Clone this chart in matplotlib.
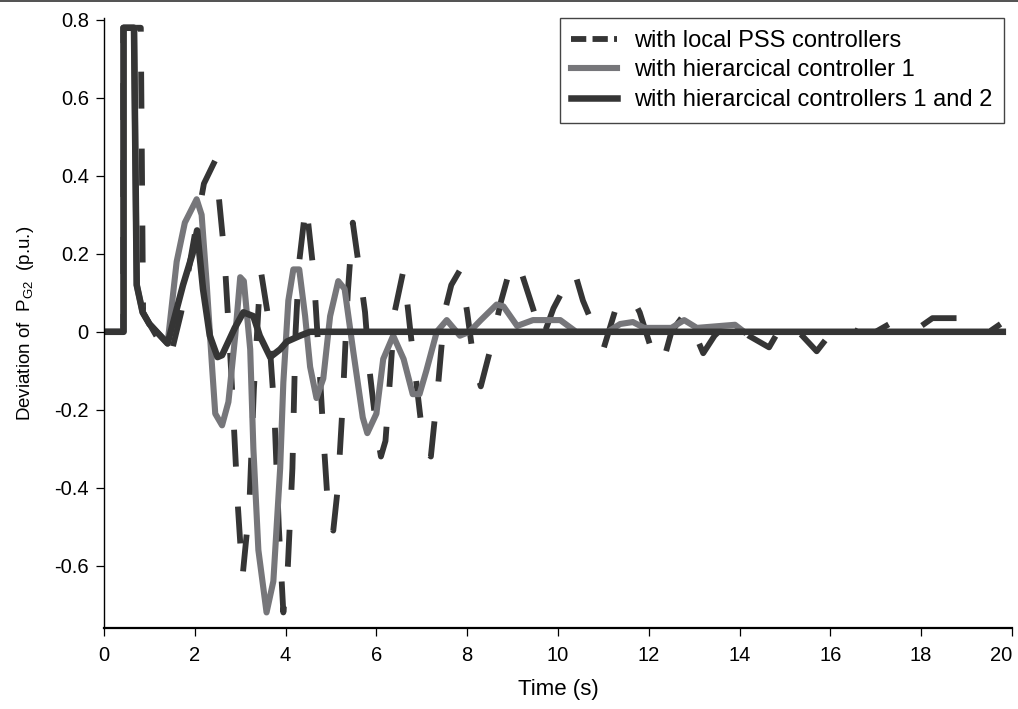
import numpy as np
import matplotlib
matplotlib.use('Agg')
import matplotlib.pyplot as plt
from matplotlib.lines import Line2D

plt.rcParams['font.family'] = ['Liberation Sans', 'DejaVu Sans']
plt.rcParams['mathtext.default'] = 'regular'
plt.rcParams['lines.scale_dashes'] = False

# local PSS controllers (dashed)
t_pss = [0, 0.42, 0.42, 0.81, 0.86, 1.0, 1.45, 1.7, 2.0, 2.2, 2.45, 2.65, 2.8, 2.95, 3.05,
         3.2, 3.3, 3.45, 3.6, 3.75, 3.85, 3.95, 4.05, 4.15, 4.22, 4.3, 4.45, 4.62, 4.75,
         4.85, 4.95, 5.05, 5.15, 5.25, 5.37, 5.48, 5.6, 5.75, 5.85, 6.0, 6.1, 6.2, 6.3,
         6.4, 6.6, 6.75, 6.9, 7.05, 7.2, 7.35, 7.5, 7.65, 7.85, 8.0, 8.15, 8.3, 8.5, 8.75,
         9.0, 9.2, 9.45, 9.65, 9.9, 10.35, 10.55, 10.8, 11.0, 11.3, 11.6, 11.8, 12.1, 12.3,
         12.5, 12.8, 13.0, 13.2, 13.45, 13.8, 14.2, 14.65, 15.0, 15.3, 15.7, 16.2, 16.6,
         17.0, 17.3, 17.7, 18.25, 18.9, 19.2, 19.5, 19.75]
y_pss = [0, 0, 0.78, 0.78, 0.05, 0.02, -0.07, 0.05, 0.25, 0.38, 0.44, 0.2, -0.1, -0.45, -0.63,
         -0.45, -0.15, 0.16, 0.05, -0.2, -0.5, -0.72, -0.6, -0.35, 0.0, 0.18, 0.33, 0.15, -0.1,
         -0.3, -0.48, -0.51, -0.4, -0.2, 0.1, 0.28, 0.18, 0.05, -0.1, -0.25, -0.32, -0.28, -0.12,
         0.05, 0.16, 0.0, -0.15, -0.3, -0.32, -0.15, 0.05, 0.12, 0.16, 0.05, -0.08, -0.14, -0.05, 0.08,
         0.185, 0.15, 0.06, -0.02, 0.06, 0.16, 0.08, 0.01, -0.045, 0.07, 0.095, 0.05, -0.06, -0.085,
         0.0, 0.048, 0.0, -0.055, -0.01, 0.03, -0.01, -0.04, 0.03, 0.0, -0.05, 0.025, 0.0,
         0.0, 0.02, -0.01, 0.035, 0.035, 0.0, 0.0, 0.02]

# hierarcical controller 1 (gray)
t_h1 = [0, 0.43, 0.43, 0.66, 0.72, 0.85, 1.0, 1.4, 1.6, 1.78, 2.04, 2.15, 2.26, 2.38, 2.45,
        2.6, 2.74, 2.89, 3.0, 3.08, 3.22, 3.29, 3.4, 3.58, 3.73, 3.88, 3.95, 4.06, 4.17,
        4.3, 4.43, 4.54, 4.68, 4.83, 4.98, 5.16, 5.3, 5.49, 5.7, 5.8, 6.0, 6.15, 6.37,
        6.6, 6.8, 6.95, 7.1, 7.33, 7.55, 7.84, 8.05, 8.3, 8.65, 8.8, 9.1, 9.45, 10.05,
        10.4, 11.1, 11.37, 11.65, 11.9, 12.5, 12.78, 13.06, 13.9, 14.1]
y_h1 = [0, 0, 0.78, 0.78, 0.12, 0.05, 0.02, -0.03, 0.18, 0.28, 0.34, 0.3, 0.125, -0.09, -0.21,
        -0.24, -0.18, -0.01, 0.14, 0.13, -0.045, -0.3, -0.56, -0.72, -0.64, -0.35, -0.13, 0.08, 0.16,
        0.16, 0.04, -0.09, -0.17, -0.12, 0.04, 0.13, 0.11, -0.05, -0.22, -0.26, -0.21, -0.07, -0.01,
        -0.07, -0.16, -0.16, -0.1, 0.0, 0.03, -0.01, 0.0, 0.03, 0.07, 0.065, 0.015, 0.03, 0.03,
        0.0, 0.0, 0.02, 0.025, 0.01, 0.01, 0.03, 0.01, 0.018, 0.0]

# hierarcical controllers 1 and 2 (dark)
t_h12 = [0, 0.43, 0.43, 0.66, 0.72, 0.85, 1.0, 1.4, 1.56, 1.74, 1.95, 2.05, 2.18, 2.33, 2.5,
         2.6, 2.88, 3.07, 3.29, 3.43, 3.66, 3.88, 4.03, 4.32, 4.54, 19.8]
y_h12 = [0, 0, 0.78, 0.78, 0.12, 0.05, 0.02, -0.03, 0.04, 0.12, 0.2, 0.26, 0.11, -0.01, -0.065,
         -0.06, 0.01, 0.05, 0.04, -0.01, -0.065, -0.045, -0.025, -0.01, 0.0, 0.0]

dark = '#353535'
gray = '#76767a'

fig = plt.figure(figsize=(10.18, 7.09), dpi=100)
ax = fig.add_axes([0.1022, 0.1142, 0.8918, 0.8604])

ax.plot(t_pss, y_pss, color=dark, lw=4.2, dashes=(26.6, 28.8), solid_joinstyle='round')
ax.plot(t_h1, y_h1, color=gray, lw=4.4)
ax.plot(t_h12, y_h12, color=dark, lw=4.7)

ax.set_xlim(0, 20)
ax.set_ylim(-0.76, 0.805)
ax.set_xticks(np.arange(0, 21, 2))
ax.set_yticks([-0.6, -0.4, -0.2, 0, 0.2, 0.4, 0.6, 0.8])
ax.set_yticklabels(['-0.6', '-0.4', '-0.2', '0', '0.2', '0.4', '0.6', '0.8'])
ax.tick_params(direction='out', length=6, width=0.9, labelsize=14.5)
ax.tick_params(axis='y', pad=5)
ax.tick_params(axis='x', pad=7)
ax.get_xticklabels()[-1].set_horizontalalignment('right')
ax.spines['top'].set_visible(False)
ax.spines['right'].set_visible(False)
ax.spines['left'].set_linewidth(1.0)
ax.spines['bottom'].set_linewidth(1.6)

ax.set_xlabel('Time (s)', fontsize=16, labelpad=10)
ax.set_ylabel('Deviation of  P$_{G2}$  (p.u.)', fontsize=13.5, labelpad=13)

handles = [Line2D([], [], color=dark, lw=4.2, dashes=(11, 4.5)),
           Line2D([], [], color=gray, lw=4.4),
           Line2D([], [], color=dark, lw=4.7)]
labels = ['with local PSS controllers', 'with hierarcical controller 1',
          'with hierarcical controllers 1 and 2']
leg = ax.legend(handles, labels, loc='upper right', bbox_to_anchor=(0.9915, 1.0),
                fontsize=17, fancybox=False, framealpha=1, edgecolor='#444444',
                handlelength=1.95, handletextpad=0.7, labelspacing=0.32, borderpad=0.5,
                borderaxespad=0.0)
leg.get_frame().set_linewidth(1.0)

fig.add_artist(Line2D([0, 1], [0.998, 0.998], transform=fig.transFigure,
                      color='#333333', lw=1.2))

fig.savefig('out.png', dpi=100)
